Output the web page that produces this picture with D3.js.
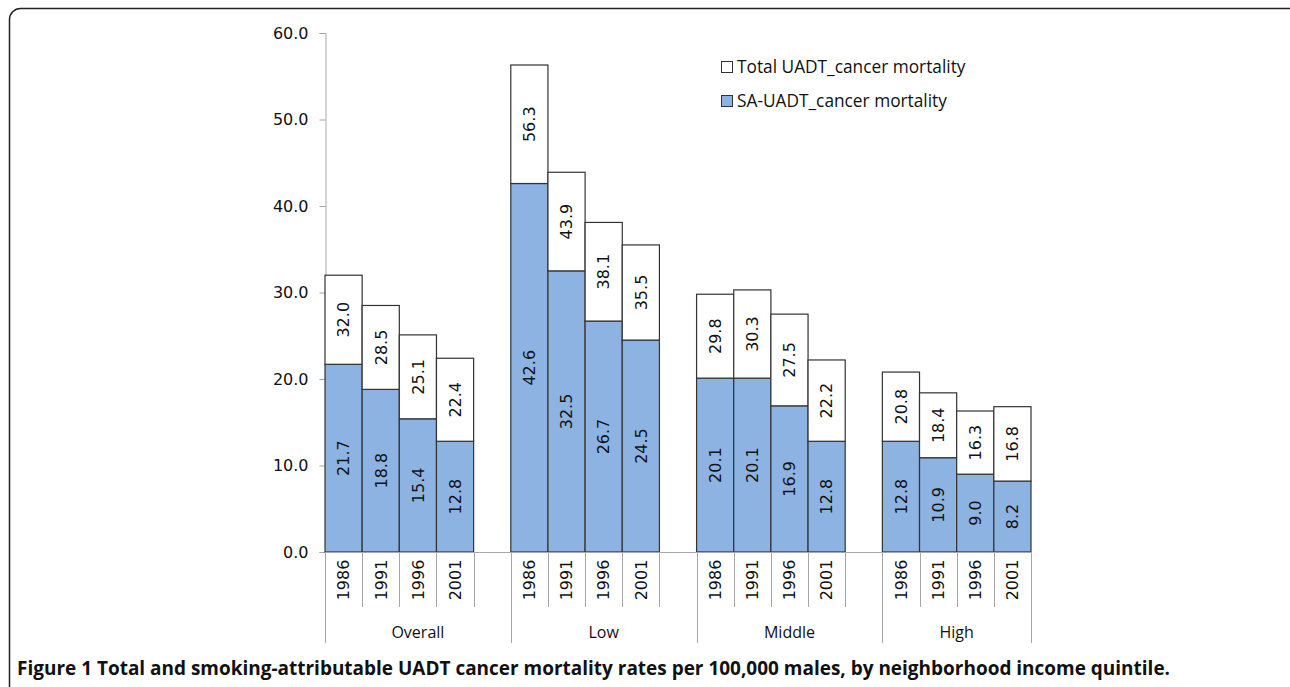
<!DOCTYPE html>
<html>
<head>
<meta charset="utf-8">
<script src="https://cdn.jsdelivr.net/npm/d3@7"></script>
<style>
  body { margin: 0; background: #fff; }
  svg { display: block; }
</style>
</head>
<body>
<div id="chart"></div>
<script>
// data
var groups = ["Overall", "Low", "Middle", "High"];
var years = ["1986", "1991", "1996", "2001"];
var totalMort = [
    [32.0, 28.5, 25.1, 22.4],
    [56.3, 43.9, 38.1, 35.5],
    [29.8, 30.3, 27.5, 22.2],
    [20.8, 18.4, 16.3, 16.8]
];
var saMort = [
    [21.7, 18.8, 15.4, 12.8],
    [42.6, 32.5, 26.7, 24.5],
    [20.1, 20.1, 16.9, 12.8],
    [12.8, 10.9, 9.0, 8.2]
];
var yTicks = [0, 10, 20, 30, 40, 50, 60];
var legendLabels = ["Total UADT_cancer mortality", "SA-UADT_cancer mortality"];

const W = 1290, H = 687;
const blue = "#8db3e2";
const numFont = "'DejaVu Sans', sans-serif";
const txtFont = "'Open Sans', 'Noto Sans', sans-serif";

const svg = d3.select("div#chart").append("svg")
    .attr("width", W)
    .attr("height", H);

// rounded frame
svg.append("rect")
    .attr("x", 9.5).attr("y", 8.5)
    .attr("width", 1300).attr("height", 720)
    .attr("rx", 11).attr("ry", 11)
    .attr("fill", "none")
    .attr("stroke", "#222")
    .attr("stroke-width", 1.5);

// slots: 4 years + an empty slot after every group but the last
var slots = [];
groups.forEach(function (g, gi) {
    years.forEach(function (yr) { slots.push(g + "|" + yr); });
    if (gi < groups.length - 1) slots.push(g + "|gap");
});

const x = d3.scaleBand().domain(slots).range([325, 1031]).padding(0);
const y = d3.scaleLinear().domain([0, 60]).range([552, 33]);

// rows
var rows = [];
groups.forEach(function (g, gi) {
    years.forEach(function (yr, yi) {
        rows.push({ key: g + "|" + yr, year: yr, total: totalMort[gi][yi], sa: saMort[gi][yi] });
    });
});

// y axis
const yAxis = d3.axisLeft(y)
    .tickValues(yTicks)
    .tickSize(6)
    .tickFormat(d3.format(".1f"));

const ya = svg.append("g")
    .attr("transform", "translate(325.5,0)")
    .call(yAxis);
ya.select(".domain").attr("stroke", "#a6a6a6");
ya.selectAll(".tick line").attr("stroke", "#a6a6a6");
ya.selectAll(".tick text")
    .attr("x", -17)
    .style("font-family", numFont)
    .style("font-size", "16px")
    .attr("fill", "#111");

// bars
var bars = svg.append("g");

bars.selectAll("rect.sa")
    .data(rows)
    .enter()
    .append("rect")
    .attr("class", "sa")
    .attr("x", function (d) { return x(d.key); })
    .attr("width", x.bandwidth())
    .attr("y", function (d) { return y(d.sa); })
    .attr("height", function (d) { return y(0) - y(d.sa); })
    .attr("fill", blue)
    .attr("stroke", "#333")
    .attr("stroke-width", 1.2);

bars.selectAll("rect.tot")
    .data(rows)
    .enter()
    .append("rect")
    .attr("class", "tot")
    .attr("x", function (d) { return x(d.key); })
    .attr("width", x.bandwidth())
    .attr("y", function (d) { return y(d.total); })
    .attr("height", function (d) { return y(d.sa) - y(d.total); })
    .attr("fill", "#fff")
    .attr("stroke", "#333")
    .attr("stroke-width", 1.2);

// value labels (rotated)
function vlabel(sel, yMid, val) {
    sel.append("text")
        .attr("transform", function (d) {
            return "translate(" + (x(d.key) + x.bandwidth() / 2) + "," + yMid(d) + ") rotate(-90)";
        })
        .attr("text-anchor", "middle")
        .attr("dy", "0.36em")
        .style("font-family", numFont)
        .style("font-size", "16px")
        .attr("fill", "#111")
        .text(function (d) { return d3.format(".1f")(val(d)); });
}
var lab = svg.append("g").selectAll("g").data(rows).enter().append("g");
vlabel(lab, function (d) { return (y(0) + y(d.sa)) / 2; }, function (d) { return d.sa; });
vlabel(lab, function (d) { return (y(d.sa) + y(d.total)) / 2; }, function (d) { return d.total; });

// category axis
var xa = svg.append("g");
xa.append("line")
    .attr("x1", 325).attr("x2", 1031)
    .attr("y1", 552.5).attr("y2", 552.5)
    .attr("stroke", "#a6a6a6");

// short ticks at every bar edge
var edges = [];
rows.forEach(function (d) {
    edges.push(x(d.key));
    edges.push(x(d.key) + x.bandwidth());
});
xa.selectAll("line.short")
    .data(edges)
    .enter()
    .append("line")
    .attr("x1", function (d) { return Math.round(d) + 0.5; })
    .attr("x2", function (d) { return Math.round(d) + 0.5; })
    .attr("y1", 552).attr("y2", 607)
    .attr("stroke", "#a6a6a6");

// long group separators
var groupEdges = groups.map(function (g) { return x(g + "|1986"); });
groupEdges.push(1031);
xa.selectAll("line.long")
    .data(groupEdges)
    .enter()
    .append("line")
    .attr("x1", function (d) { return Math.round(d) + 0.5; })
    .attr("x2", function (d) { return Math.round(d) + 0.5; })
    .attr("y1", 552).attr("y2", 643)
    .attr("stroke", "#a6a6a6");

// year labels
xa.selectAll("text.year")
    .data(rows)
    .enter()
    .append("text")
    .attr("transform", function (d) {
        return "translate(" + (x(d.key) + x.bandwidth() / 2) + ",580) rotate(-90)";
    })
    .attr("text-anchor", "middle")
    .attr("dy", "0.36em")
    .style("font-family", numFont)
    .style("font-size", "16px")
    .attr("fill", "#111")
    .text(function (d) { return d.year; });

// group labels
xa.selectAll("text.grp")
    .data(groups)
    .enter()
    .append("text")
    .attr("x", function (g, i) { return (groupEdges[i] + groupEdges[i + 1]) / 2; })
    .attr("y", 638)
    .attr("text-anchor", "middle")
    .style("font-family", txtFont)
    .style("font-size", "16px")
    .attr("fill", "#111")
    .text(function (g) { return g; });

// legend
var leg = svg.append("g").selectAll("g")
    .data(legendLabels)
    .enter()
    .append("g")
    .attr("transform", function (d, i) { return "translate(721," + (61 + i * 34) + ")"; });
leg.append("rect")
    .attr("x", 0.5).attr("y", 0.5)
    .attr("width", 11).attr("height", 11)
    .attr("fill", function (d, i) { return i === 0 ? "#fff" : blue; })
    .attr("stroke", "#333");
leg.append("text")
    .attr("x", 16)
    .attr("y", 12)
    .style("font-family", txtFont)
    .style("font-size", "17.3px")
    .attr("fill", "#111")
    .text(function (d) { return d; });

// caption
svg.append("text")
    .attr("x", 17)
    .attr("y", 675)
    .attr("textLength", 1153)
    .attr("lengthAdjust", "spacingAndGlyphs")
    .style("font-family", "'Liberation Sans Narrow', 'Open Sans', sans-serif")
    .style("font-weight", "bold")
    .style("font-size", "20px")
    .attr("fill", "#111")
    .text("Figure 1 Total and smoking-attributable UADT cancer mortality rates per 100,000 males, by neighborhood income quintile.");
</script>
</body>
</html>
